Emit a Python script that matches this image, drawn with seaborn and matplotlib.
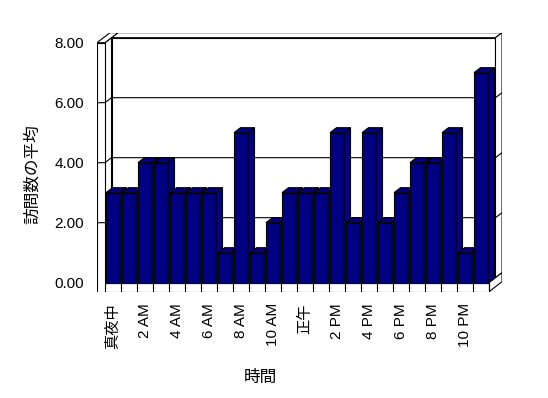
import matplotlib
matplotlib.use('Agg')
import pandas as pd
import matplotlib.pyplot as plt
import seaborn as sns
from matplotlib.patches import Polygon

# data
hours = ['真夜中', '1 AM', '2 AM', '3 AM', '4 AM', '5 AM', '6 AM', '7 AM',
         '8 AM', '9 AM', '10 AM', '11 AM', '正午', '1 PM', '2 PM', '3 PM',
         '4 PM', '5 PM', '6 PM', '7 PM', '8 PM', '9 PM', '10 PM', '11 PM']
visits = [3, 3, 4, 4, 3, 3, 3, 1, 5, 1, 2, 3,
          3, 3, 5, 2, 5, 2, 3, 4, 4, 5, 1, 7]
y_ticks = [0, 2, 4, 6, 8]

sns.set_style('white')
plt.rcParams['font.family'] = ['Liberation Sans', 'Noto Sans CJK JP']
plt.rcParams['text.color'] = 'black'
plt.rcParams['xtick.color'] = 'black'
plt.rcParams['ytick.color'] = 'black'

W, H = 548, 398
fig = plt.figure(figsize=(W / 100, H / 100), dpi=100)
ax = fig.add_axes([97 / W, (H - 292) / H, 405 / W, 259 / H])

LW = 0.8
df = pd.DataFrame({'時間': hours, '訪問数の平均': visits})
sns.barplot(data=df, x='時間', y='訪問数の平均', color='#000080',
            saturation=1, width=0.875, edgecolor='black', linewidth=LW, ax=ax)

# fake 3d box, depth offset in data units
dx, dy = 6.5 / 16, 5 / 30
x_lo, x_hi = -0.5, len(hours) - 0.5
ymax = 8
fh = 0.3
wall = dict(facecolor='white', edgecolor='black', linewidth=LW)

# back wall (front face, top, right side)
ax.add_patch(Polygon([(x_lo + dx, dy), (x_hi + dx, dy), (x_hi + dx, ymax + dy),
                      (x_lo + dx, ymax + dy)], zorder=1, **wall))
ax.add_patch(Polygon([(x_lo + dx, ymax + dy), (x_hi + dx, ymax + dy),
                      (x_hi + 2 * dx, ymax + 2 * dy), (x_lo + 2 * dx, ymax + 2 * dy)],
                     zorder=1, **wall))
ax.add_patch(Polygon([(x_hi + dx, dy), (x_hi + 2 * dx, 2 * dy),
                      (x_hi + 2 * dx, ymax + 2 * dy), (x_hi + dx, ymax + dy)],
                     zorder=1, **wall))
# left wall (inner face, top)
ax.add_patch(Polygon([(x_lo, 0), (x_lo + dx, dy), (x_lo + dx, ymax + dy),
                      (x_lo, ymax)], zorder=1, **wall))
ax.add_patch(Polygon([(x_lo - 0.5, ymax), (x_lo, ymax),
                      (x_lo + 2 * dx, ymax + 2 * dy), (x_lo - 0.5 + 2 * dx, ymax + 2 * dy)],
                     zorder=1, **wall))
# floor (top, right side) and the front face of floor + left wall
ax.add_patch(Polygon([(x_lo, 0), (x_hi, 0), (x_hi + dx, dy), (x_lo + dx, dy)],
                     zorder=1.1, **wall))
ax.add_patch(Polygon([(x_hi, -fh), (x_hi, 0), (x_hi + 2 * dx, 2 * dy),
                      (x_hi + 2 * dx, -fh + 2 * dy)], zorder=1.1, **wall))
ax.add_patch(Polygon([(x_lo - 0.5, -fh), (x_hi, -fh), (x_hi, 0), (x_lo, 0),
                      (x_lo, ymax), (x_lo - 0.5, ymax)], zorder=1.1, **wall))

# gridlines wrapping the walls
for v in y_ticks[1:-1]:
    ax.plot([x_lo - 0.5, x_lo, x_lo + dx, x_hi + dx, x_hi + 2 * dx],
            [v, v, v + dy, v + dy, v + 2 * dy], color='black', lw=LW, zorder=1.5)

# slot dividers on the floor front
for k in range(len(hours) + 1):
    ax.plot([x_lo + k, x_lo + k], [-fh, 0], color='black', lw=LW, zorder=2)

# top and side faces of each bar
bars = list(ax.patches)[:len(hours)]
for i, p in enumerate(bars):
    z = 3 + i * 0.01
    p.set_zorder(z)
    x0, w, h = p.get_x(), p.get_width(), p.get_height()
    ax.add_patch(Polygon([(x0, h), (x0 + w, h), (x0 + w + dx, h + dy), (x0 + dx, h + dy)],
                         facecolor='#000080', edgecolor='black', lw=LW, zorder=z))
    ax.add_patch(Polygon([(x0 + w, 0), (x0 + w + dx, dy), (x0 + w + dx, h + dy), (x0 + w, h)],
                         facecolor='#000080', edgecolor='black', lw=LW, zorder=z))

ax.set_xlim(-1.0, 24.3125)
ax.set_ylim(-0.31, 8.323)
for s in ax.spines.values():
    s.set_visible(False)

ax.set_yticks(y_ticks)
ax.set_yticklabels([f'{v:.2f}' for v in y_ticks], fontsize=11)
ax.set_xticks(range(len(hours)))
ax.set_xticklabels([h if i % 2 == 0 else '' for i, h in enumerate(hours)],
                   rotation=90, fontsize=11)
ax.tick_params(axis='y', length=0, pad=9.4)
ax.tick_params(axis='x', length=0, pad=8)
ax.set_xlabel('')
ax.set_ylabel('')

fig.text(32 / W, 1 - 174 / H, '訪問数の平均', rotation=90, ha='center', va='center', fontsize=12)
fig.text(260 / W, 1 - 377 / H, '時間', ha='center', va='center', fontsize=12)

fig.savefig('out.png', dpi=100)
